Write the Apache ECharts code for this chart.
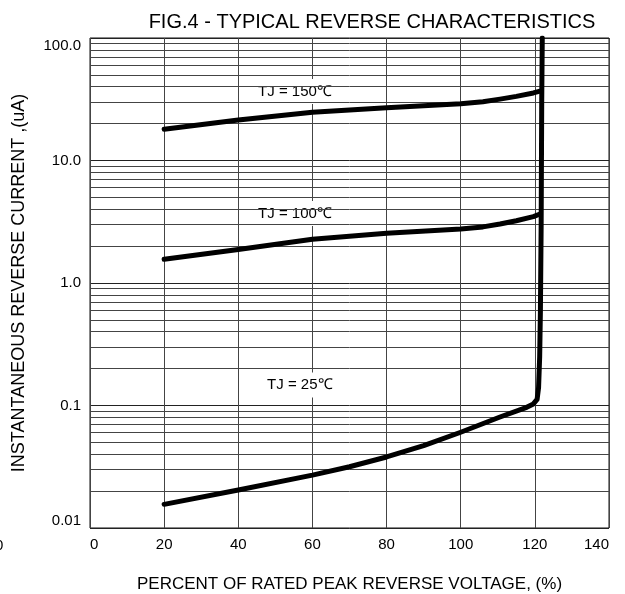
<!DOCTYPE html>
<html><head><meta charset="utf-8">
<script src="https://cdn.jsdelivr.net/npm/echarts@6/dist/echarts.min.js"></script>
<style>html,body{margin:0;padding:0;background:#fff}#c{width:625px;height:594px}</style>
</head><body><div id="c"></div>
<script>
const titleText = 'FIG.4 - TYPICAL REVERSE CHARACTERISTICS';
const xName = 'PERCENT OF RATED PEAK REVERSE VOLTAGE, (%)';
const yName = 'INSTANTANEOUS REVERSE CURRENT ,(uA)';
const xTicks = [0, 20, 40, 60, 80, 100, 120, 140];
const yTickValues = [0.01, 0.1, 1, 10, 100];
const yTickLabels = ['0.01', '0.1', '1.0', '10.0', '100.0'];
const minorDecades = [0.01, 0.1, 1, 10];
const minorMultipliers = [2, 3, 4, 5, 6, 7, 8, 9];

const tj150 = [[20,18.0],[40,21.4],[60,24.8],[80,27.0],[100,29.0],[106,30.2],[110.6,31.7],[115,33.4],[119.6,35.6],[121.4,36.9]];
const tj100 = [[20,1.56],[40,1.88],[60,2.28],[80,2.55],[100,2.76],[106,2.87],[110.6,3.03],[115,3.22],[119.6,3.48],[121.4,3.66]];
const tj25 = [[20,0.0156],[40,0.0204],[60,0.0270],[70,0.0316],[80,0.0380],[90,0.0470],[100,0.0605],[110.6,0.0805],[117.8,0.0966],[119.6,0.103],[120.6,0.112],[121.0,0.14],[121.3,0.25],[121.5,0.6],[121.7,3.0],[121.85,30],[122.0,100]];

const curveLabels = ['TJ = 150℃', 'TJ = 100℃', 'TJ = 25℃'];
const curveLabelPos = [[55.3, 36.5], [55.3, 3.7], [56.6, 0.147]];

const FONT = "'Liberation Sans', Arial, sans-serif";
const minorLines = [];
minorDecades.forEach(d => minorMultipliers.forEach(m => minorLines.push({ yAxis: +(d * m).toPrecision(3) })));

const chart = echarts.init(document.getElementById('c'), null, { renderer: 'canvas' });

const curveStyle = { color: '#000', width: 5, cap: 'round', join: 'round' };
function curve(name, data) {
  return {
    name, type: 'line', data, z: 5,
    showSymbol: false, symbol: 'none', smooth: false,
    lineStyle: curveStyle, itemStyle: { color: '#000' },
    animation: false
  };
}

chart.setOption({
  animation: false,
  backgroundColor: '#fff',
  title: {
    text: titleText, left: 367, top: 7, textAlign: 'center',
    textStyle: { fontFamily: FONT, fontSize: 20, fontWeight: 'normal', color: '#000' }
  },
  grid: { left: 90, right: 16, top: 38, bottom: 66, outerBoundsMode: 'none', containLabel: false,
          show: true, borderColor: '#111', borderWidth: 1, backgroundColor: 'transparent' },
  xAxis: {
    type: 'value', min: 0, max: 140, interval: 20,
    name: xName, nameLocation: 'middle', nameGap: 48,
    nameTextStyle: { fontFamily: FONT, fontSize: 17, color: '#000' },
    axisLine: { show: false }, axisTick: { show: false },
    axisLabel: {
      fontFamily: FONT, fontSize: 15, color: '#000', margin: 9,
      alignMinLabel: 'left', alignMaxLabel: 'right',
      formatter: v => xTicks.indexOf(v) >= 0 ? String(v) : ''
    },
    splitLine: { show: true, lineStyle: { color: '#444', width: 1 } }
  },
  yAxis: {
    type: 'log', logBase: 10, min: 0.01, max: 100,
    name: yName, nameLocation: 'middle', nameGap: 62, nameRotate: 90,
    nameTextStyle: { fontFamily: FONT, fontSize: 18, color: '#000' },
    axisLine: { show: false }, axisTick: { show: false },
    axisLabel: {
      fontFamily: FONT, fontSize: 15, color: '#000', margin: 9,
      verticalAlignMinLabel: 'bottom', verticalAlignMaxLabel: 'top',
      formatter: v => {
        for (let i = 0; i < yTickValues.length; i++) {
          if (Math.abs(Math.log10(v) - Math.log10(yTickValues[i])) < 1e-6) return yTickLabels[i];
        }
        return '';
      }
    },
    splitLine: { show: true, lineStyle: { color: '#222', width: 1 } },
    minorTick: { show: false }, minorSplitLine: { show: false }
  },
  graphic: [
    { type: 'text', left: -5, top: 538, style: { text: '0', fontFamily: FONT, fontSize: 15, fill: '#000' } }
  ],
  series: [
    {
      name: 'grid', type: 'line', data: [], z: 1, silent: true,
      markLine: {
        silent: true, symbol: ['none', 'none'], animation: false,
        label: { show: false },
        lineStyle: { color: '#444', width: 1, type: 'solid' },
        data: minorLines
      }
    },
    curve('TJ = 150℃', tj150),
    curve('TJ = 100℃', tj100),
    curve('TJ = 25℃', tj25),
    {
      name: 'labels', type: 'scatter', z: 4, silent: true,
      symbolSize: 1, itemStyle: { color: '#fff', opacity: 1 },
      data: curveLabelPos.map((p, i) => ({ value: p, name: curveLabels[i] })),
      label: {
        show: true, position: 'inside', formatter: p => p.name,
        fontFamily: FONT, fontSize: 15, color: '#000', opacity: 1,
        textBorderWidth: 0, textBorderColor: 'transparent',
        backgroundColor: '#fff', padding: [5, 5]
      }
    }
  ]
});
</script></body></html>
